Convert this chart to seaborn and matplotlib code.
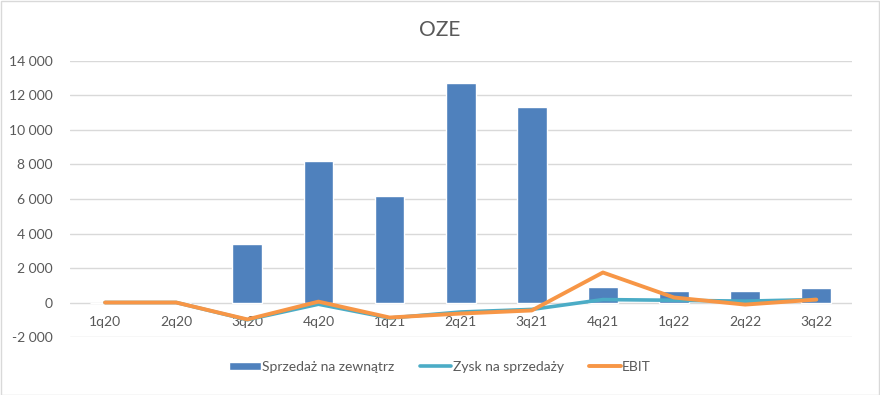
import matplotlib
matplotlib.use("Agg")
import matplotlib.pyplot as plt
import matplotlib.ticker as mticker
from matplotlib.patches import Rectangle
import pandas as pd
import seaborn as sns

quarters = ["1q20", "2q20", "3q20", "4q20", "1q21", "2q21", "3q21",
            "4q21", "1q22", "2q22", "3q22"]
sprzedaz = [0, 0, 3410, 8210, 6190, 12720, 11340, 925, 690, 690, 870]
zysk = [0, 0, -1000, -100, -900, -550, -400, 170, 130, 80, 170]
ebit = [0, 0, -980, 50, -870, -640, -460, 1740, 290, -120, 170]

df = pd.DataFrame({"q": quarters, "sprzedaz": sprzedaz, "zysk": zysk, "ebit": ebit})

sns.set_theme(style="white")
plt.rcParams["font.family"] = ["Lato", "DejaVu Sans"]
txt = "#595959"

fig = plt.figure(figsize=(8.8, 3.95), dpi=100)
ax = fig.add_axes([0.079, 0.1468, 0.889, 0.6988])

sns.barplot(data=df, x="q", y="sprzedaz", order=quarters, color="#4F81BD",
            saturation=1, width=0.42, ax=ax, label="Sprzedaż na zewnątrz", zorder=2)
sns.lineplot(data=df, x="q", y="zysk", color="#4BACC6", linewidth=2.6,
             sort=False, ax=ax, label="Zysk na sprzedaży", zorder=3)
sns.lineplot(data=df, x="q", y="ebit", color="#F79646", linewidth=2.8,
             sort=False, ax=ax, label="EBIT", zorder=4)

ax.set_ylim(-2000, 14000)
ax.set_xlim(-0.5, len(quarters) - 0.5)
ax.yaxis.set_major_locator(mticker.MultipleLocator(2000))
ax.yaxis.set_major_formatter(mticker.FuncFormatter(
    lambda v, p: f"{int(v):,}".replace(",", " ")))
ax.grid(axis="y", color="#D9D9D9", linewidth=1, zorder=0)
ax.set_axisbelow(True)
for s in ax.spines.values():
    s.set_visible(False)
ax.spines["bottom"].set_position(("data", 0))
ax.tick_params(axis="x", length=0, pad=10, labelsize=10, labelcolor=txt)
ax.tick_params(axis="y", length=0, pad=12, labelsize=10, labelcolor=txt)
ax.set_xlabel("")
ax.set_ylabel("")

handles, labels = ax.get_legend_handles_labels()
order = [labels.index(n) for n in ["Sprzedaż na zewnątrz", "Zysk na sprzedaży", "EBIT"]]
ax.legend([handles[i] for i in order], [labels[i] for i in order],
          loc="upper center", bbox_to_anchor=(0.5, 0.118), ncol=3,
          frameon=False, fontsize=10, labelcolor=txt, handlelength=2.3,
          handleheight=0.55, handletextpad=0.1, columnspacing=1.8,
          bbox_transform=fig.transFigure)

fig.text(0.5, 0.924, "OZE", ha="center", va="center", fontsize=15, color=txt)
fig.patches.append(Rectangle((0.001, 0.001), 0.998, 0.997, transform=fig.transFigure,
                             fill=False, edgecolor="#D9D9D9", linewidth=1))

fig.savefig("out.png", dpi=100)
plt.close(fig)
